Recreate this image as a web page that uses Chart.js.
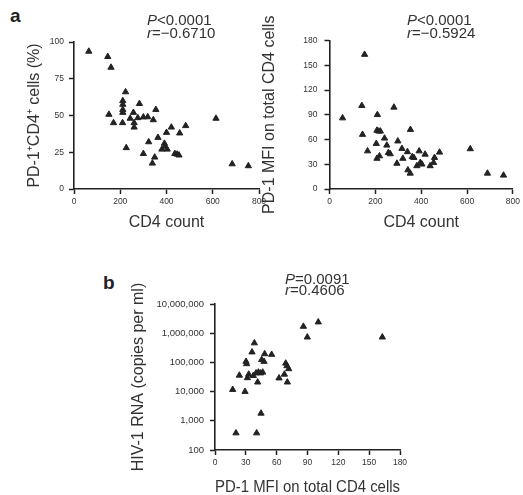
<!DOCTYPE html>
<html>
<head>
<meta charset="utf-8">
<script src="https://cdn.jsdelivr.net/npm/chart.js@4.4.1/dist/chart.umd.min.js"></script>
<style>
  html, body { margin: 0; padding: 0; background: #fff; }
  body { width: 523px; height: 495px; position: relative; overflow: hidden; font-family: "Liberation Sans", Arial, sans-serif; }
  canvas { position: absolute; }
  .panel { position: absolute; font-weight: bold; font-size: 19px; color: #222; line-height: 1; }
</style>
</head>
<body>
<div class="panel" style="left:10px; top:6px">a</div>
<div class="panel" style="left:103px; top:273px">b</div>
<canvas id="pctChart" width="272" height="235" style="left:0px; top:0px"></canvas>
<canvas id="mfiChart" width="263" height="235" style="left:260px; top:0px"></canvas>
<canvas id="rnaChart" width="330" height="240" style="left:100px; top:265px"></canvas>
<script>
// panel a, left: CD4 count vs % PD-1+ CD4+ cells
const cd4CountPct = [64, 146, 160, 223, 211, 211, 211, 211, 283, 151, 354, 171, 210, 257,
  243, 260, 260, 276, 300, 319, 343, 226, 300, 323, 339, 349, 363, 400, 421, 391,
  380, 394, 403, 457, 483, 436, 446, 454, 614, 684, 754];
const pd1Pct = [93.6, 90, 82.7, 66, 60, 57.5, 54, 52, 58, 50.7, 54, 45, 45, 52,
  48, 45, 42, 48.4, 48.9, 49, 47, 28, 24, 32, 17.5, 21.6, 35, 38.4, 42, 31,
  27, 29, 27, 38, 43, 24, 23.6, 23, 48, 17, 15.7];

// panel a, right: CD4 count vs PD-1 MFI
const cd4CountMfi = [57, 153, 141, 144, 166, 281, 209, 207, 215, 222, 204, 240, 250, 257, 265,
  207, 218, 298, 294, 316, 320, 340, 361, 368, 353, 342, 352, 381, 396, 403,
  391, 417, 439, 454, 458, 480, 614, 689, 759];
const pd1Mfi = [86, 163, 101, 66, 46, 99, 90, 71, 70, 70, 55, 61.5, 53, 44, 42.5,
  37, 40, 58, 31, 49, 37, 45, 39, 38, 72, 23, 19, 28, 32, 30,
  46, 42, 28, 32, 38, 44.5, 48.6, 19, 16.6];

// panel b: PD-1 MFI vs HIV-1 RNA
const mfiVsRna = [17.2, 20.4, 23.7, 29.2, 30.2, 30.8, 31.5, 32.8, 36, 38.3, 37.3, 39.9, 42.2,
  40.5, 41.5, 44.8, 44.4, 46.4, 45.4, 47.7, 48.3, 55.1, 62.3, 67.5, 68.8, 70, 71.7,
  70.4, 86, 89.8, 100.5, 162.8];
const hivRna = [11700, 380, 36000, 10000, 107000, 89000, 29500, 39000, 225000, 460000, 35000, 43000, 46000,
  380, 21000, 1800, 43000, 46000, 123000, 107000, 195000, 186000, 29000, 39000, 93000, 76000, 60000,
  21000, 1700000, 730000, 2400000, 730000];

const cd4Ticks = [0, 200, 400, 600, 800];
const pctTicks = [0, 25, 50, 75, 100];
const mfiTicks = [0, 30, 60, 90, 120, 150, 180];
const rnaTicks = [100, 1000, 10000, 100000, 1000000, 10000000];

const statsPct = [["P", "<0.0001"], ["r", "=\u22120.6710"]];
const statsMfi = [["P", "<0.0001"], ["r", "=\u22120.5924"]];
const statsRna = [["P", "=0.0091"], ["r", "=0.4606"]];

const FONT = '"Liberation Sans", Arial, sans-serif';
const INK = "#222";

// writes the P / r values, P and r in italics
const statsPlugin = {
  id: "stats",
  afterDraw(chart, args, opts) {
    if (!opts.lines) return;
    const ctx = chart.ctx;
    ctx.save();
    ctx.fillStyle = "#333";
    ctx.textBaseline = "middle";
    opts.lines.forEach((line, i) => {
      let x = opts.x;
      const y = opts.y + i * opts.gap;
      ctx.font = "italic 15px " + FONT;
      ctx.fillText(line[0], x, y);
      x += ctx.measureText(line[0]).width;
      ctx.font = "15px " + FONT;
      ctx.fillText(line[1], x, y);
    });
    ctx.restore();
  },
};
Chart.register(statsPlugin);

function axis(o) {
  return {
    type: o.type || "linear",
    min: o.min,
    max: o.max,
    afterBuildTicks: (s) => { s.ticks = o.ticks.map((v) => ({ value: v })); },
    afterFit: (s) => { if (o.width) s.width = o.width; if (o.height) s.height = o.height; },
    border: { display: true, color: INK, width: 1.6 },
    grid: { display: true, drawOnChartArea: false, drawTicks: true, tickLength: 5, tickWidth: 1.5, color: INK },
    ticks: {
      color: "#333",
      padding: o.tickPad,
      font: { family: FONT, size: o.tickSize || 8.5 },
      maxRotation: 0,
      autoSkip: false,
      callback: o.fmt || ((v) => v),
    },
    title: {
      display: true,
      text: o.title,
      color: "#333",
      font: { family: FONT, size: 16 },
      padding: o.titlePad,
    },
  };
}

function scatter(id, xs, ys, cfg) {
  return new Chart(document.getElementById(id), {
    type: "scatter",
    data: {
      datasets: [{
        data: xs.map((x, i) => ({ x: x, y: ys[i] })),
        pointStyle: "triangle",
        pointRadius: 3.6,
        backgroundColor: INK,
        borderColor: INK,
        borderWidth: 1,
      }],
    },
    options: {
      responsive: false,
      animation: false,
      layout: { autoPadding: false, padding: cfg.padding },
      scales: { x: cfg.x, y: cfg.y },
      plugins: {
        legend: { display: false },
        tooltip: { enabled: false },
        stats: cfg.stats,
      },
    },
  });
}

scatter("pctChart", cd4CountPct, pd1Pct, {
  padding: { left: 0, top: 42, right: 13, bottom: 0 },
  x: axis({ min: 0, max: 800, ticks: cd4Ticks, height: 46, tickPad: 3,
    title: "CD4 count", titlePad: { top: 0, bottom: 2.4 } }),
  y: axis({ min: 0, max: 100, ticks: pctTicks, width: 74, tickPad: 5,
    title: "PD-1\u207ACD4\u207A cells (%)", titlePad: { top: 24.5, bottom: 0 } }),
  stats: { lines: statsPct, x: 147, y: 21, gap: 12.5 },
});

scatter("mfiChart", cd4CountMfi, pd1Mfi, {
  padding: { left: 0, top: 40.5, right: 9.7, bottom: 0 },
  x: axis({ min: 0, max: 800, ticks: cd4Ticks, height: 46, tickPad: 3,
    title: "CD4 count", titlePad: { top: 0, bottom: 2.4 } }),
  y: axis({ min: 0, max: 180, ticks: mfiTicks, width: 69.5, tickPad: 7,
    title: "PD-1 MFI on total CD4 cells", titlePad: { top: 0.4, bottom: 0 } }),
  stats: { lines: statsMfi, x: 147, y: 21, gap: 12.5 },
});

scatter("rnaChart", mfiVsRna, hivRna, {
  padding: { left: 0, top: 39, right: 30, bottom: 0 },
  x: axis({ min: 0, max: 180, ticks: mfiTicks, height: 55, tickPad: 3,
    title: "PD-1 MFI on total CD4 cells", titlePad: { top: 0, bottom: 7.4 } }),
  y: axis({ type: "logarithmic", min: 100, max: 10000000, ticks: rnaTicks, width: 115, tickPad: 6,
    tickSize: 9.5, fmt: (v) => Number(v).toLocaleString("en-US"),
    title: "HIV-1 RNA (copies per ml)", titlePad: { top: 28.7, bottom: 0 } }),
  stats: { lines: statsRna, x: 185, y: 15, gap: 11 },
});
</script>
</body>
</html>
